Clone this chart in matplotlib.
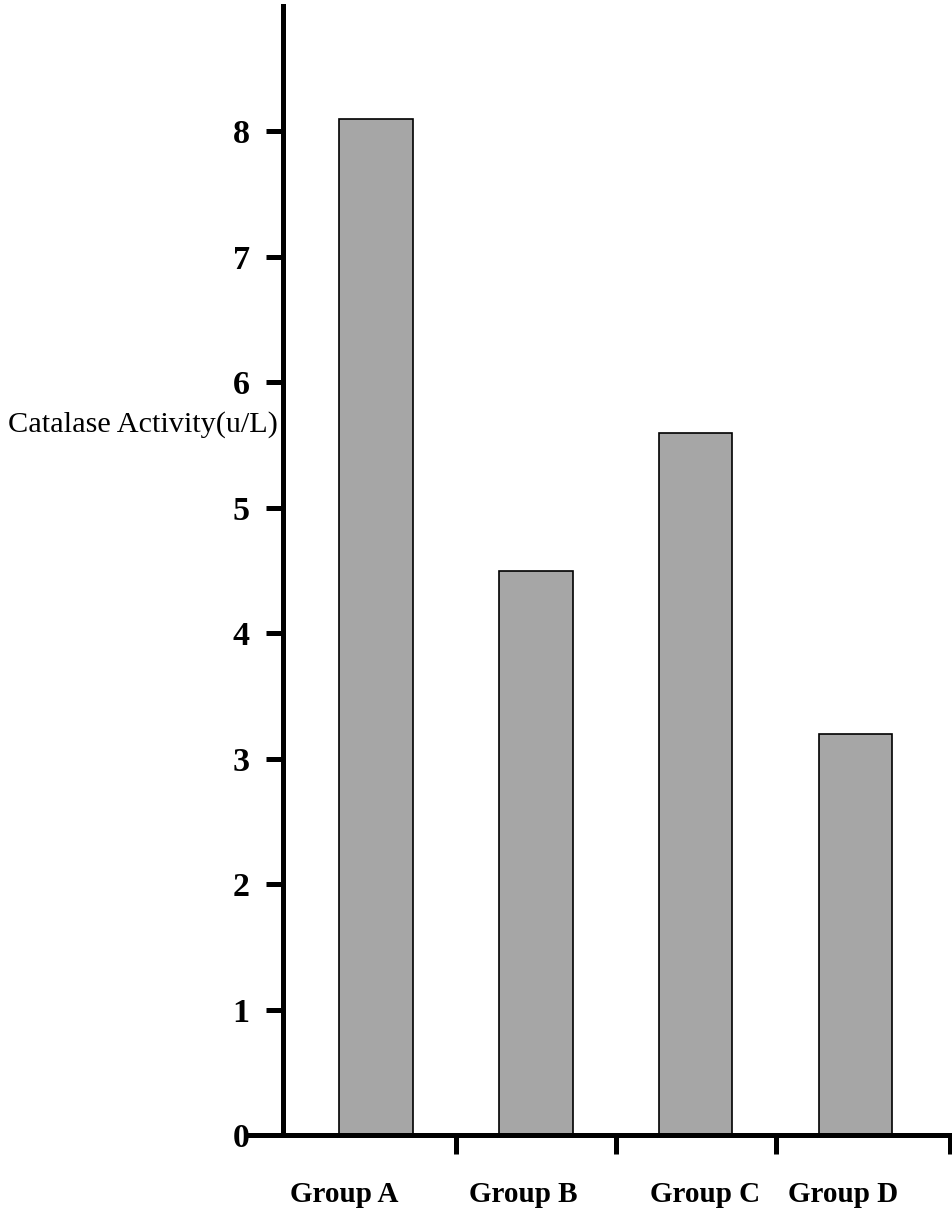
import matplotlib
matplotlib.use("Agg")
import matplotlib.pyplot as plt

groups = ["Group A", "Group B", "Group C", "Group D"]
values = [8.1, 4.5, 5.6, 3.2]
y_ticks = [0, 1, 2, 3, 4, 5, 6, 7, 8]
boundary_ticks = [0.5, 1.5, 2.5, 3.59]
label_positions = [-0.2, 0.92, 2.06, 2.92]
y_label = "Catalase Activity(u/L)"

plt.rcParams['font.family'] = ['Liberation Serif', 'DejaVu Serif']

fig = plt.figure(figsize=(9.52, 12.18), dpi=100)
ax = fig.add_axes([0.2973, 0.0681, 0.7006, 0.927])

x = list(range(len(groups)))
ax.bar(x, values, width=0.46, color="#a6a6a6", edgecolor="black", linewidth=1.2, zorder=2)

ax.set_xlim(-0.58, 3.59)
ax.set_ylim(0, 9.0)

for s in ["top", "right"]:
    ax.spines[s].set_visible(False)
for s in ["left", "bottom"]:
    ax.spines[s].set_linewidth(3.6)
    ax.spines[s].set_capstyle("projecting")

ax.set_yticks(y_ticks)
ax.set_yticklabels([str(t) for t in y_ticks], fontsize=24.5, fontweight="bold")
ax.tick_params(axis="y", direction="out", length=12, width=3.6, pad=12)

ax.set_xticks(boundary_ticks)
ax.set_xticklabels([])
ax.tick_params(axis="x", direction="out", length=14, width=3.6)

for pos, g in zip(label_positions, groups):
    ax.text(pos, -0.47, g, ha="center", va="center", fontsize=21, fontweight="bold",
            transform=ax.transData, clip_on=False)

ax.axhline(0, xmin=-0.05, xmax=0, color="black", linewidth=3.6, clip_on=False)

fig.text(8 / 952, 1 - 425 / 1218, y_label, ha="left", va="center", fontsize=21.8)

fig.savefig("out.png", dpi=100)
